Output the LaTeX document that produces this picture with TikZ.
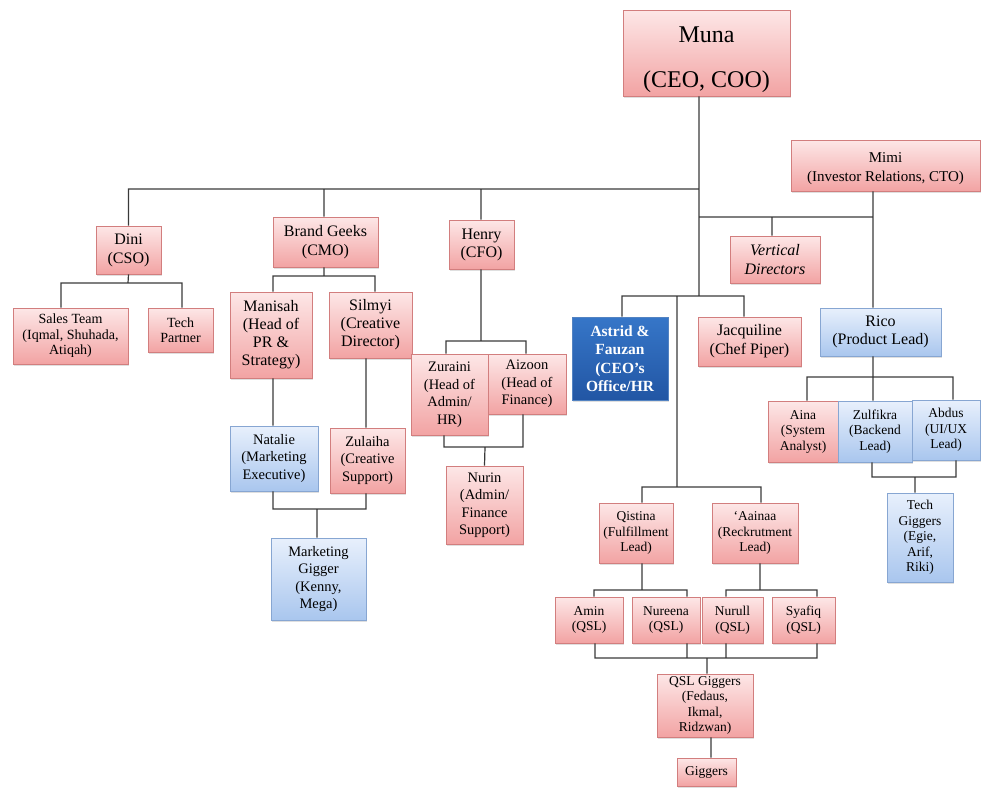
\documentclass[tikz,border=0pt]{standalone}
\usepackage{fontspec}
\setmainfont{Liberation Serif}
\usetikzlibrary{shadows}

\definecolor{pinktop}{HTML}{FDE7E7}
\definecolor{pinkbot}{HTML}{F2A3A3}
\definecolor{pinkline}{HTML}{D27E7E}
\definecolor{bluetop}{HTML}{E8F0FC}
\definecolor{bluebot}{HTML}{A9C6EE}
\definecolor{blueline}{HTML}{87A6D2}
\definecolor{navytop}{HTML}{3676C8}
\definecolor{navybot}{HTML}{2256A4}
\definecolor{navyline}{HTML}{5383C2}
\definecolor{wire}{HTML}{3A3A3A}

\begin{document}
\begin{tikzpicture}[x=1pt,y=-1pt]
    \tikzstyle{box}=[draw, line width=0.8pt, inner sep=0pt, align=center, drop shadow={shadow xshift=1.2pt, shadow yshift=-1.5pt, opacity=0.25}]
    \tikzstyle{pink}=[box, draw=pinkline, top color=pinktop, bottom color=pinkbot]
    \tikzstyle{blue}=[box, draw=blueline, top color=bluetop, bottom color=bluebot]
    \tikzstyle{navy}=[box, draw=navyline, top color=navytop, bottom color=navybot, text=white]
    \tikzstyle{huge}=[font=\fontsize{24}{45}\selectfont]
    \tikzstyle{big}=[font=\fontsize{16}{19}\selectfont]
    \tikzstyle{mid}=[font=\fontsize{14.5}{17.5}\selectfont]
    \tikzstyle{small}=[font=\fontsize{13.5}{15.5}\selectfont]
    \tikzstyle{connect}=[draw=wire, line width=1.2pt]
    \tikzset{wh/.style 2 args={minimum width=#1pt, minimum height=#2pt}}
    \useasboundingbox (0,0) rectangle (981,787);

    % top level
    \node[pink, huge, wh={167}{86}] (muna) at (706.5,53) {\rule{0pt}{30pt}Muna\\(CEO, COO)};
    \node[pink, wh={189}{51}, font=\fontsize{15}{19}\selectfont] (mimi) at (885.5,165.5) {\rule{0pt}{17pt}Mimi\\(Investor Relations, CTO)};
    \node[pink, big, wh={90}{47}, font=\fontsize{16}{19}\selectfont\itshape] (vd) at (775,259.5) {Vertical\\Directors};

    % sales
    \node[pink, big, wh={65}{48}] (dini) at (128.5,250) {Dini\\(CSO)};
    \node[pink, wh={115}{56}, font=\fontsize{14}{15.5}\selectfont] (sales) at (70.5,336) {Sales Team\\(Iqmal, Shuhada,\\Atiqah)};
    \node[pink, wh={65}{44}, font=\fontsize{14}{15.5}\selectfont] (techp) at (180.5,330) {Tech\\Partner};

    % marketing
    \node[pink, big, wh={105}{50}] (brand) at (325.5,242) {Brand Geeks\\(CMO)};
    \node[pink, big, wh={82}{86}, font=\fontsize{16}{18}\selectfont] (manisah) at (271,335) {Manisah\\(Head of\\PR \&\\Strategy)};
    \node[pink, big, wh={83}{66}, font=\fontsize{16}{18}\selectfont] (silmyi) at (370.5,325) {Silmyi\\(Creative\\Director)};
    \node[blue, mid, wh={88}{65}] (natalie) at (274,458.5) {Natalie\\(Marketing\\Executive)};
    \node[pink, mid, wh={75}{65}] (zulaiha) at (367.5,460.5) {Zulaiha\\(Creative\\Support)};
    \node[blue, mid, wh={95}{82}] (mgig) at (318.5,579) {Marketing\\Gigger\\(Kenny,\\Mega)};

    % finance
    \node[pink, big, wh={65}{49}, font=\fontsize{16}{18}\selectfont] (henry) at (481.5,244.5) {Henry\\(CFO)};
    \node[pink, mid, wh={78}{60}] (aizoon) at (527,384) {Aizoon\\(Head of\\Finance)};
    \node[pink, mid, wh={77}{81}] (zuraini) at (449.5,394.5) {Zuraini\\(Head of\\Admin/\\HR)};
    \node[pink, mid, wh={77}{78}] (nurin) at (484.5,505) {Nurin\\(Admin/\\Finance\\Support)};

    % ceo office and operations
    \node[navy, wh={96}{83}, font=\fontsize{15.5}{18.5}\selectfont\bfseries] (astrid) at (620,358.5) {Astrid \&\\Fauzan\\(CEO's\\Office/HR};
    \node[pink, big, wh={103}{49}] (jacq) at (749.5,341.5) {Jacquiline\\(Chef Piper)};
    \node[pink, small, wh={74}{60}] (qistina) at (636,533) {Qistina\\(Fulfillment\\Lead)};
    \node[pink, small, wh={86}{60}] (aainaa) at (755,533) {`Aainaa\\(Reckrutment\\Lead)};
    \node[pink, small, wh={68}{46}] (amin) at (589,620) {Amin\\(QSL)};
    \node[pink, small, wh={68}{46}] (nureena) at (666,620) {Nureena\\(QSL)};
    \node[pink, small, wh={61}{46}] (nurull) at (732.5,620) {Nurull\\(QSL)};
    \node[pink, small, wh={63}{46}] (syafiq) at (803.5,620) {Syafiq\\(QSL)};
    \node[pink, small, wh={96}{63}] (qslg) at (705,705.5) {QSL Giggers\\(Fedaus,\\Ikmal,\\Ridzwan)};
    \node[pink, small, wh={59}{28}] (giggers) at (706.5,772) {Giggers};

    % product
    \node[blue, big, wh={121}{48}, font=\fontsize{16}{18}\selectfont] (rico) at (880.5,332) {Rico\\(Product Lead)};
    \node[pink, small, wh={70}{61}] (aina) at (803,431.5) {Aina\\(System\\Analyst)};
    \node[blue, small, wh={74}{61}] (zulfikra) at (875,431.5) {Zulfikra\\(Backend\\Lead)};
    \node[blue, small, wh={68}{60}] (abdus) at (946,430) {Abdus\\(UI/UX\\Lead)};
    \node[blue, small, wh={66}{89}] (techg) at (920,537.5) {Tech\\Giggers\\(Egie,\\Arif,\\Riki)};

    % junctions
    \coordinate (hub) at (699,189);
    \coordinate (hubB) at (699,217);
    \coordinate (hubC) at (699,296);
    \coordinate (opsTop) at (677,296);
    \coordinate (opsBus) at (677,487);
    \coordinate (qBus) at (642,590);
    \coordinate (aBus) at (760,590);
    \coordinate (gBus) at (707,658);
    \coordinate (dBus) at (128,283);
    \coordinate (bBus) at (324,276);
    \coordinate (mBus) at (317,509);
    \coordinate (hBus) at (481,341);
    \coordinate (nBus) at (485,447);
    \coordinate (rBus) at (873,377);
    \coordinate (tBus) at (915,477);

    \path[connect] ([xshift=-7.5pt]muna.south) -- (hubC)
    (dini.north) |- (hub)
    ([xshift=-1.5pt]brand.north) -- ++(0,-28)
    ([xshift=-0.5pt]henry.north) -- ++(0,-31)
    (hubB) -| ([xshift=-3pt]vd.north)
    (hubB) -| ([xshift=-7.5pt]rico.north)
    ([xshift=-12.5pt]mimi.south) -- ++(0,26)
    ([xshift=2pt]astrid.north) |- (hubC) -| ([xshift=-5.5pt]jacq.north)
    (opsTop) -- (opsBus)
    ([xshift=6pt]qistina.north) |- (opsBus) -| ([xshift=6pt]aainaa.north)
    ([xshift=6pt]qistina.south) -- (qBus)
    ([xshift=5pt]amin.north) |- (qBus) -| ([xshift=21pt]nureena.north)
    ([xshift=5pt]aainaa.south) -- (aBus)
    ([xshift=-6.5pt]nurull.north) |- (aBus) -| ([xshift=13.5pt]syafiq.north)
    ([xshift=6pt]amin.south) |- (gBus) -| ([xshift=13.5pt]syafiq.south)
    ([xshift=21pt]nureena.south) -- ++(0,15)
    ([xshift=-6.5pt]nurull.south) -- ++(0,15)
    (gBus) -- ([xshift=2pt]qslg.north)
    ([xshift=6pt]qslg.south) -- ([xshift=4.5pt]giggers.north)
    (dini.south) -- (dBus)
    ([xshift=-9.5pt]sales.north) |- (dBus) -| ([xshift=1.5pt]techp.north)
    ([xshift=-1.5pt]brand.south) -- (bBus)
    ([xshift=2pt]manisah.north) |- (bBus) -| ([xshift=4.5pt]silmyi.north)
    ([xshift=2pt]manisah.south) -- ([xshift=-1pt]natalie.north)
    ([xshift=-4.5pt]silmyi.south) -- ([xshift=-1.5pt]zulaiha.north)
    ([xshift=-1pt]natalie.south) |- (mBus) -| ([xshift=-1.5pt]zulaiha.south)
    (mBus) -- ([xshift=-1.5pt]mgig.north)
    ([xshift=-0.5pt]henry.south) -- (hBus)
    ([xshift=-3.5pt]zuraini.north) |- (hBus) -| ([xshift=-1pt]aizoon.north)
    ([xshift=-5.5pt]zuraini.south) |- (nBus) -| ([xshift=-4pt]aizoon.south)
    (nBus) -- (nurin.north)
    ([xshift=-7.5pt]rico.south) -- (rBus)
    ([xshift=4pt]aina.north) |- (rBus) -| ([xshift=7pt]abdus.north)
    (rBus) -- ([xshift=-2pt]zulfikra.north)
    ([xshift=-3pt]zulfikra.south) |- (tBus) -| ([xshift=10pt]abdus.south)
    (tBus) -- ([xshift=-5pt]techg.north);
\end{tikzpicture}
\end{document}
